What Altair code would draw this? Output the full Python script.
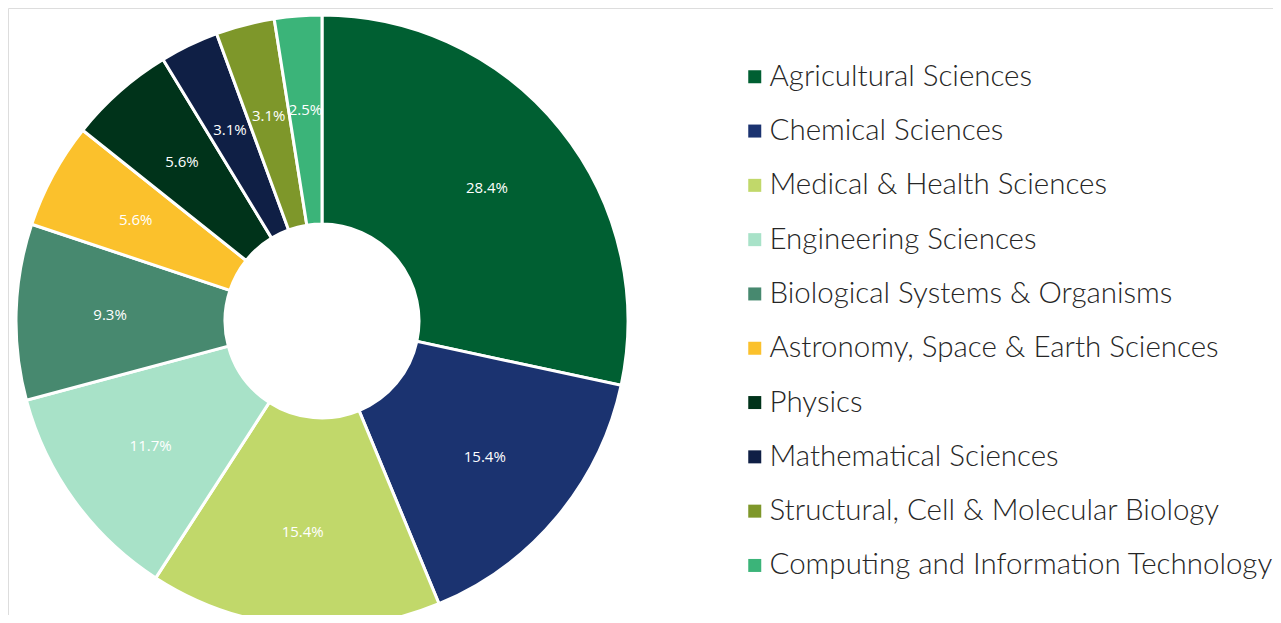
import altair as alt
import pandas as pd

categories = [
    "Agricultural Sciences",
    "Chemical Sciences",
    "Medical & Health Sciences",
    "Engineering Sciences",
    "Biological Systems & Organisms",
    "Astronomy, Space & Earth Sciences",
    "Physics",
    "Mathematical Sciences",
    "Structural, Cell & Molecular Biology",
    "Computing and Information Technology",
]
values = [28.4, 15.4, 15.4, 11.7, 9.3, 5.6, 5.6, 3.1, 3.1, 2.5]
colors = ["#005F32", "#1B3370", "#C1D86A", "#A8E2C8", "#47896F",
          "#FBC12C", "#00331A", "#0F1F45", "#7E972A", "#3BB479"]

df = pd.DataFrame({
    "category": categories,
    "value": values,
    "order": list(range(len(categories))),
    "label": [f"{v:.1f}%" for v in values],
})

cx, cy = 314, 313

base = alt.Chart(df).encode(
    theta=alt.Theta("value:Q", stack=True),
    order=alt.Order("order:Q", sort="ascending"),
)

arcs = base.mark_arc(
    innerRadius=97, outerRadius=306, stroke="white", strokeWidth=3
).encode(
    x=alt.value(cx), y=alt.value(cy),
    color=alt.Color(
        "category:N",
        scale=alt.Scale(domain=categories, range=colors),
        sort=categories,
        legend=alt.Legend(
            title=None,
            orient="none",
            legendX=732,
            legendY=54,
            symbolType="square",
            symbolSize=169,
            symbolStrokeWidth=0,
            labelFont="Lato",
            labelFontSize=29.5,
            labelFontWeight=300,
            labelColor="#262626",
            labelOffset=0,
            rowPadding=23.3,
            labelLimit=700,
        ),
    ),
)

text = base.mark_text(
    radius=212, fontSize=15, font="Open Sans", color="white"
).encode(x=alt.value(cx), y=alt.value(cy), text="label:N")

chart = (arcs + text).properties(
    width=1265, height=607, autosize="none", padding=0
).configure_view(stroke="transparent", strokeWidth=0).configure(background="white")

chart.save("out.html", embed_options={"renderer": "svg", "actions": False})
